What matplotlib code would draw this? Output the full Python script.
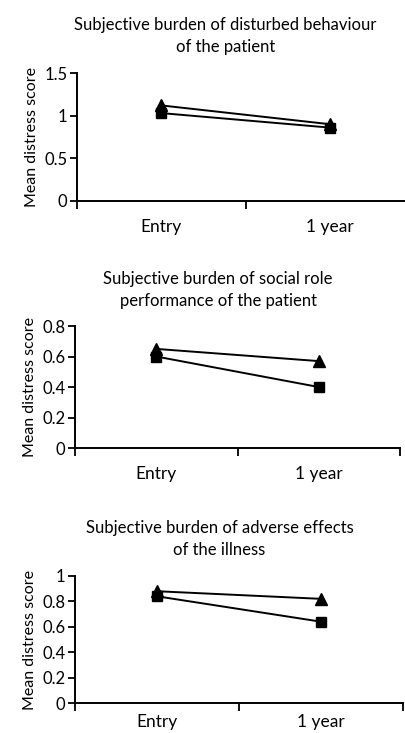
import matplotlib
matplotlib.use("Agg")
import matplotlib.pyplot as plt

plt.rcParams["font.family"] = ["Lato", "DejaVu Sans"]

categories = ["Entry", "1 year"]

titles = [
    "Subjective burden of disturbed behaviour\nof the patient",
    "Subjective burden of social role\nperformance of the patient",
    "Subjective burden of adverse effects\nof the illness",
]

# triangle series / square series, one pair per panel
triangle_1 = [1.12, 0.90]
square_1 = [1.03, 0.86]
triangle_2 = [0.65, 0.57]
square_2 = [0.60, 0.40]
triangle_3 = [0.88, 0.82]
square_3 = [0.84, 0.64]

yticks_1 = [0, 0.5, 1, 1.5]
yticks_2 = [0, 0.2, 0.4, 0.6, 0.8]
yticks_3 = [0, 0.2, 0.4, 0.6, 0.8, 1]

panels = [
    (titles[0], triangle_1, square_1, yticks_1, [0.190, 0.7258, 0.830, 0.1746], 13),
    (titles[1], triangle_2, square_2, yticks_2, [0.185, 0.3888, 0.800, 0.1664], 13),
    (titles[2], triangle_3, square_3, yticks_3, [0.185, 0.0409, 0.808, 0.1733], 8),
]

fig = plt.figure(figsize=(4.06, 7.33), dpi=100)

for title, tri, sq, yticks, rect, xpad in panels:
    ax = fig.add_axes(rect)
    xs = [i + 0.5 for i in range(len(categories))]
    ax.plot(xs, sq, color="black", lw=1.4, marker="s", markersize=7)
    ax.plot(xs, tri, color="black", lw=1.4, marker="^", markersize=8.5)

    ax.set_xlim(0, len(categories))
    ax.set_ylim(yticks[0], yticks[-1])
    ax.set_yticks(yticks)
    ax.set_yticklabels(["%g" % v for v in yticks])
    ax.set_xticks(xs)
    ax.set_xticklabels(categories)
    ax.set_xticks(range(len(categories) + 1), minor=True)
    ax.tick_params(axis="x", which="major", length=0, pad=xpad, labelsize=12.5)
    ax.tick_params(axis="x", which="minor", length=6, width=1.3, direction="out")
    ax.tick_params(axis="y", length=5, width=1.3, direction="out", labelsize=12, pad=2)

    for side in ["top", "right"]:
        ax.spines[side].set_visible(False)
    for side in ["left", "bottom"]:
        ax.spines[side].set_linewidth(1.4)

    ax.set_ylabel("Mean distress score", fontsize=11.5, labelpad=4)
    ax.text(0.44, 1.14, title, transform=ax.transAxes, ha="center", va="bottom",
            fontsize=12, linespacing=1.45)

fig.savefig("out.png", dpi=100)
